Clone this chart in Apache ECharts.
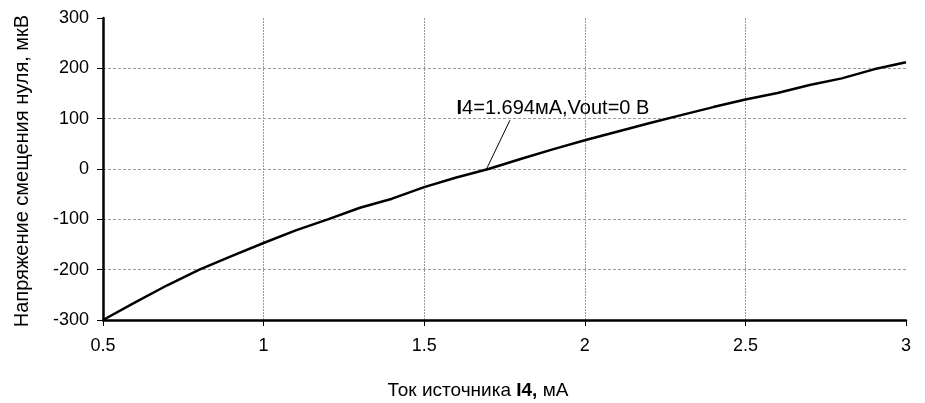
<!DOCTYPE html>
<html><head><meta charset="utf-8">
<script src="https://cdn.jsdelivr.net/npm/echarts@6/dist/echarts.min.js"></script>
<style>html,body{margin:0;padding:0;background:#fff}#c{width:925px;height:403px}</style>
</head><body><div id="c"></div>
<script>
const currentMA = [0.5,0.6,0.7,0.8,0.9,1.0,1.1,1.2,1.3,1.4,1.5,1.6,1.7,1.8,1.9,2.0,2.1,2.2,2.3,2.4,2.5,2.6,2.7,2.8,2.9,3.0];
const offsetUV = [-300,-265,-231,-200,-173,-147,-122,-100,-77,-59,-36,-17,0,20,39,57,74,91,107,123,138,151,167,180,198,212];
const annotPoint = [1.694, 0];
const annotAnchor = [1.767, 97];
const annotText = '{b|I}4=1.694мА,Vout=0 В';
const xTitle = 'Ток источника {b|I4,} мА';
const yTitle = 'Напряжение смещения нуля, мкВ';

const FONT = '"Liberation Sans", Arial, sans-serif';
const chart = echarts.init(document.getElementById('c'), null, {renderer:'canvas'});
chart.setOption({
  animation:false,
  backgroundColor:'#fff',
  textStyle:{fontFamily:FONT,color:'#000'},
  grid:{left:103,right:19,top:18,bottom:83,containLabel:false},
  xAxis:{
    type:'value',min:0.5,max:3,interval:0.5,
    axisLine:{show:true,onZero:false,lineStyle:{color:'#000',width:2.5}},
    axisTick:{show:true,length:6,lineStyle:{color:'#000',width:1}},
    axisLabel:{fontSize:18,color:'#000',margin:17,fontFamily:FONT},
    splitLine:{show:true,showMinLine:false,showMaxLine:false,lineStyle:{color:'#9a9a9a',width:1,type:[2,1]}}
  },
  yAxis:{
    type:'value',min:-300,max:300,interval:100,
    axisLine:{show:true,onZero:false,lineStyle:{color:'#000',width:2.5}},
    axisTick:{show:true,length:6,lineStyle:{color:'#000',width:1}},
    axisLabel:{fontSize:18,color:'#000',margin:14,fontFamily:FONT},
    splitLine:{show:true,showMinLine:false,showMaxLine:false,lineStyle:{color:'#9a9a9a',width:1,type:[3,2]}}
  },
  graphic:[
    {type:'text',x:478,y:391,style:{text:xTitle,fontSize:19,fontFamily:FONT,fill:'#000',align:'center',verticalAlign:'middle',
      rich:{b:{fontWeight:'bold',fontSize:19,fontFamily:FONT,fill:'#000'}}}},
    {type:'text',rotation:Math.PI/2,x:22,y:171,style:{text:yTitle,fontSize:20,fontFamily:FONT,fill:'#000',align:'center',verticalAlign:'middle'}}
  ],
  series:[{
    type:'line',
    data:currentMA.map((x,i)=>[x,offsetUV[i]]),
    showSymbol:false,symbol:'none',
    lineStyle:{color:'#000',width:2.5},
    markLine:{
      silent:true,symbol:['none','none'],
      lineStyle:{color:'#000',width:1,type:'solid'},
      label:{show:false},
      data:[[{coord:annotPoint},{coord:annotAnchor}]]
    },
    markPoint:{
      silent:true,symbol:'circle',symbolSize:1,itemStyle:{color:'rgba(0,0,0,0)'},
      label:{show:true,position:'inside',offset:[43,-12],formatter:annotText,fontSize:20,color:'#000',fontFamily:FONT,
        rich:{b:{fontWeight:'bold',fontSize:20,color:'#000',fontFamily:FONT}}},
      data:[{coord:annotAnchor}]
    }
  }]
});
</script></body></html>
